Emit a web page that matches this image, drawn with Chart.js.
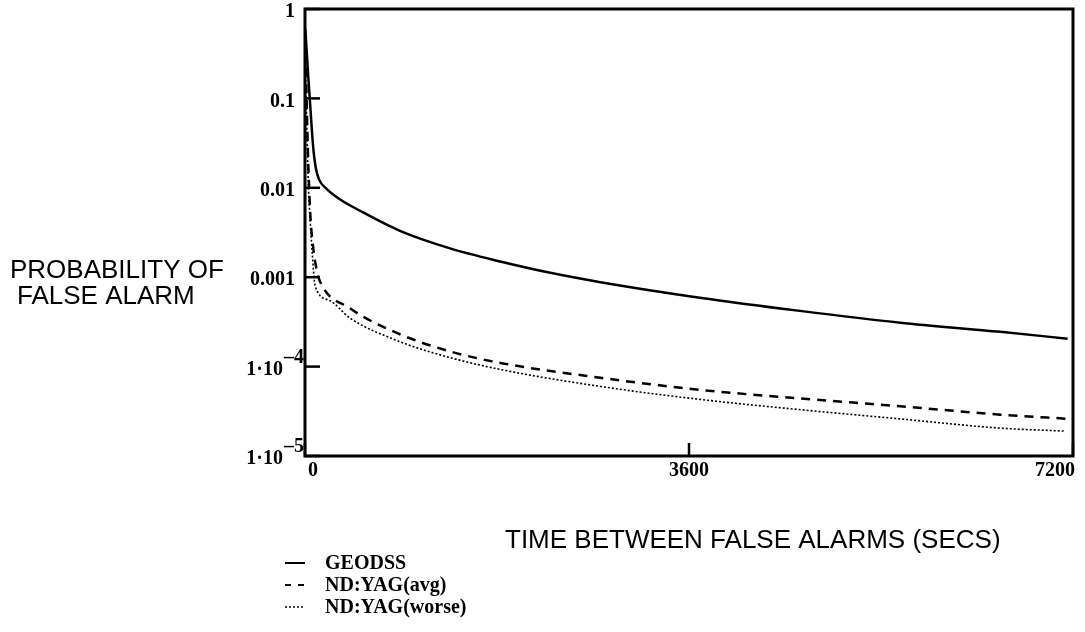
<!DOCTYPE html>
<html>
<head>
<meta charset="utf-8">
<script src="https://cdn.jsdelivr.net/npm/chart.js@4/dist/chart.umd.min.js"></script>
<style>
  html, body { margin: 0; padding: 0; background: #ffffff; }
</style>
</head>
<body>
<canvas id="pfaChart" width="1085" height="632"></canvas>
<script>
// time between false alarms (s) and probability of false alarm
const geodssTime = [3, 15, 30, 50, 75, 100, 130, 200, 330, 520, 890, 1360, 1830, 2300, 2770, 3700, 4640, 5580, 6520, 7150];
const geodssPfa = [0.6, 0.35, 0.18, 0.08, 0.03, 0.017, 0.0125, 0.0098, 0.0074, 0.0055, 0.0033, 0.0021, 0.0015, 0.00112, 0.00088, 0.00059, 0.00042, 0.00031, 0.000245, 0.000205];

const avgTime = [3, 15, 30, 50, 80, 110, 140, 420, 890, 1360, 1830, 2770, 3700, 4640, 5580, 6520, 7170];
const avgPfa = [0.5, 0.1, 0.02, 0.005, 0.002, 0.0012, 0.0009, 0.00045, 0.00023, 0.000148, 0.00011, 0.000075, 0.000055, 0.000044, 0.000036, 0.000029, 0.000026];

const worseTime = [3, 15, 30, 50, 70, 95, 230, 420, 890, 1360, 1830, 2770, 3700, 4640, 5580, 6520, 7120];
const worsePfa = [0.3, 0.06, 0.012, 0.004, 0.0017, 0.0008, 0.00055, 0.00035, 0.00019, 0.000126, 0.000093, 0.00006, 0.000043, 0.000033, 0.000026, 0.0000205, 0.000019];

const seriesNames = ["GEODSS", "ND:YAG(avg)", "ND:YAG(worse)"];

const yTicks = [1, 0.1, 0.01, 0.001, 1e-4, 1e-5];
const yTickLabels = ["1", "0.1", "0.01", "0.001", "1\u00b710", "1\u00b710"];
const yTickExps = ["", "", "", "", "\u20134", "\u20135"];
const xTicks = [0, 3600, 7200];
const xTickLabels = ["0", "3600", "7200"];

function toPoints(ts, vs) {
  return ts.map((t, i) => ({ x: t, y: vs[i] }));
}

const dashes = [[], [9, 7], [2, 2]];
const widths = [2.5, 2.5, 1.6];

const serif = "bold 20px 'Liberation Serif', 'DejaVu Serif', serif";
const sans = "'Liberation Sans', Arial, sans-serif";

// frame, inward ticks, labels, titles and legend
const decorations = {
  id: "decorations",
  afterDraw(chart) {
    const ctx = chart.ctx;
    const a = chart.chartArea;
    const xs = chart.scales.x;
    const ys = chart.scales.y;
    ctx.save();
    ctx.strokeStyle = "#000";
    ctx.fillStyle = "#000";

    // frame
    ctx.lineWidth = 3;
    ctx.setLineDash([]);
    ctx.strokeRect(a.left, a.top, a.right - a.left, a.bottom - a.top);

    // inward ticks
    ctx.lineWidth = 2.5;
    yTicks.forEach(v => {
      const y = ys.getPixelForValue(v);
      ctx.beginPath();
      ctx.moveTo(a.left, y);
      ctx.lineTo(a.left + 15, y);
      ctx.stroke();
    });
    xTicks.forEach(v => {
      const x = xs.getPixelForValue(v);
      ctx.beginPath();
      ctx.moveTo(x, a.bottom);
      ctx.lineTo(x, a.bottom - 13);
      ctx.stroke();
    });

    // y tick labels
    ctx.font = serif;
    ctx.textBaseline = "middle";
    yTicks.forEach((v, i) => {
      const y = ys.getPixelForValue(v) + 3;
      if (yTickExps[i]) {
        ctx.textAlign = "right";
        ctx.fillText(yTickLabels[i], a.left - 22, y);
        ctx.textAlign = "left";
        ctx.fillText(yTickExps[i], a.left - 21, y - 12);
      } else {
        ctx.textAlign = "right";
        ctx.fillText(yTickLabels[i], a.left - 10, y);
      }
    });

    // x tick labels
    ctx.textAlign = "center";
    ctx.textBaseline = "top";
    const xOff = [8, 0, -18];
    xTicks.forEach((v, i) => {
      ctx.fillText(xTickLabels[i], xs.getPixelForValue(v) + xOff[i], a.bottom + 5);
    });

    // axis titles
    ctx.textAlign = "left";
    ctx.textBaseline = "middle";
    ctx.font = "26px " + sans;
    ctx.fillText("PROBABILITY OF", 10, 271);
    ctx.fillText("FALSE ALARM", 17, 297);
    ctx.fillText("TIME BETWEEN FALSE ALARMS (SECS)", 505, 541);

    // legend
    ctx.font = "bold 20px 'Liberation Serif', 'DejaVu Serif', serif";
    seriesNames.forEach((name, i) => {
      const y = 563 + i * 22;
      ctx.lineWidth = i === 2 ? 1.5 : 2;
      ctx.setLineDash(i === 1 ? [6, 7] : i === 2 ? [2, 2] : []);
      ctx.beginPath();
      ctx.moveTo(285, y);
      ctx.lineTo(305, y);
      ctx.stroke();
      ctx.setLineDash([]);
      ctx.fillText(name, 325, y + 1);
    });
    ctx.restore();
  }
};

const data = {
  datasets: [
    toPoints(geodssTime, geodssPfa),
    toPoints(avgTime, avgPfa),
    toPoints(worseTime, worsePfa)
  ].map((pts, i) => ({
    label: seriesNames[i],
    data: pts,
    borderColor: "#000",
    borderWidth: widths[i],
    borderDash: dashes[i],
    pointRadius: 0,
    fill: false,
    cubicInterpolationMode: "monotone"
  }))
};

const config = {
  type: "line",
  data: data,
  options: {
    responsive: false,
    animation: false,
    layout: { padding: { top: 9, right: 12, left: 0, bottom: 0 } },
    plugins: {
      legend: { display: false },
      tooltip: { enabled: false }
    },
    scales: {
      x: {
        type: "linear",
        min: 0,
        max: 7200,
        grid: { display: false },
        border: { display: false },
        ticks: { display: false },
        afterFit(scale) { scale.height = 176; }
      },
      y: {
        type: "logarithmic",
        min: 1e-5,
        max: 1,
        grid: { display: false },
        border: { display: false },
        ticks: { display: false },
        afterFit(scale) { scale.width = 305; }
      }
    }
  },
  plugins: [decorations]
};

new Chart(document.getElementById("pfaChart"), config);
</script>
</body>
</html>
